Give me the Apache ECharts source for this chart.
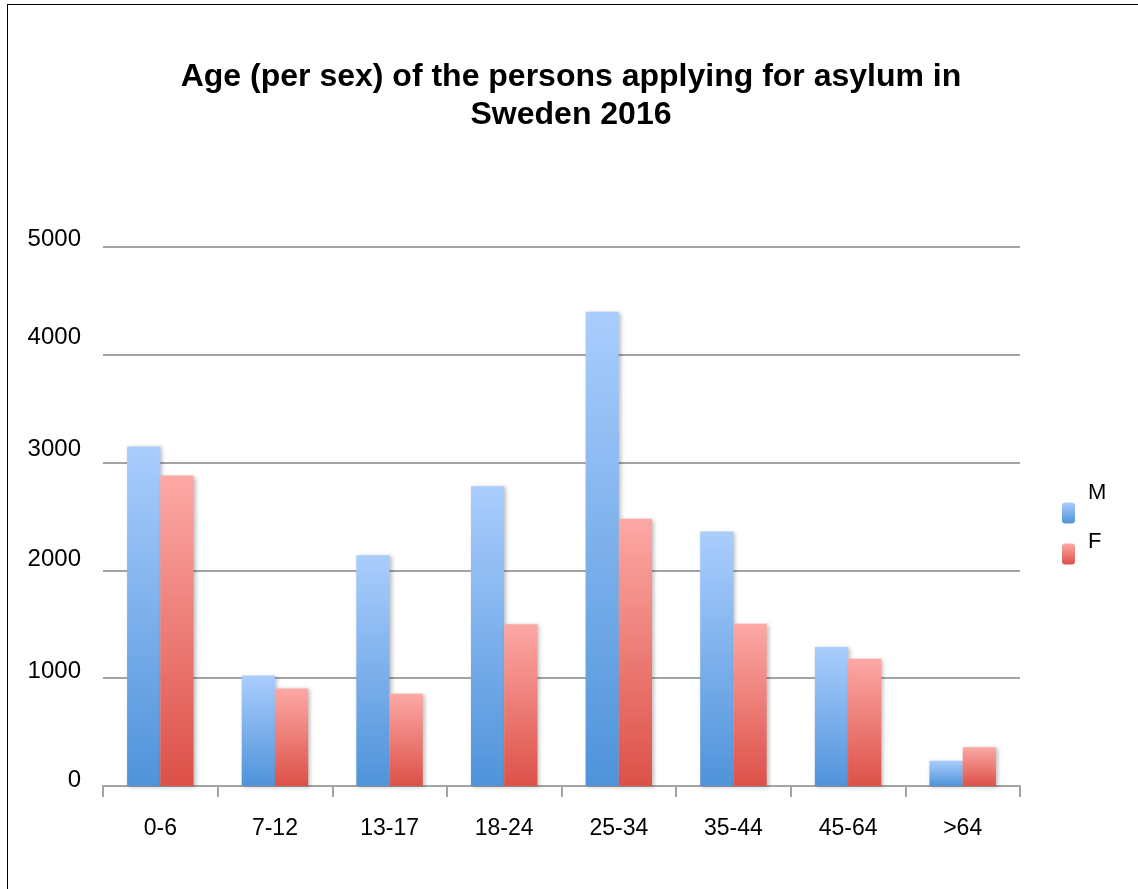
<!DOCTYPE html>
<html>
<head>
<meta charset="utf-8">
<script src="https://cdn.jsdelivr.net/npm/echarts@6/dist/echarts.min.js"></script>
<style>
html,body{margin:0;padding:0;background:#fff;}
#chart{width:1138px;height:889px;position:absolute;left:0;top:0;}
#frame{position:absolute;left:7px;top:4px;width:1140px;height:900px;border:1.5px solid #000;pointer-events:none;}
</style>
</head>
<body>
<div id="chart"></div>
<div id="frame"></div>
<script>
const titleText = 'Age (per sex) of the persons applying for asylum in\nSweden 2016';
const categories = ['0-6', '7-12', '13-17', '18-24', '25-34', '35-44', '45-64', '>64'];
const maleValues = [3150, 1025, 2140, 2780, 4400, 2360, 1290, 235];
const femaleValues = [2880, 905, 855, 1500, 2480, 1505, 1180, 360];
const yTicks = [0, 1000, 2000, 3000, 4000, 5000];

// styling: upward shift (px) of each y tick label in the original picture
const yLabelLift = [6, 7, 11, 13, 17, 8];

const FONT = 'Liberation Sans, Arial, sans-serif';
const grad = (top, bottom) => new echarts.graphic.LinearGradient(0, 0, 0, 1, [
  {offset: 0, color: top}, {offset: 1, color: bottom}
]);
const mColor = grad('#aacdfd', '#4f93da');
const fColor = grad('#fda8a5', '#dc5148');

const yRich = {};
yTicks.forEach((t, i) => {
  yRich['l' + i] = {fontFamily: FONT, fontSize: 24, color: '#000', padding: [0, 0, yLabelLift[i] * 2, 0]};
});

const chart = echarts.init(document.getElementById('chart'), null, {renderer: 'canvas'});
const legendItem = (name, top, lift) => ({
  data: [name], top: top, left: 1062, itemWidth: 13, itemHeight: 21,
  itemStyle: {borderWidth: 0}, selectedMode: false, padding: 0,
  formatter: n => '{t|' + n + '}',
  textStyle: {
    fontFamily: FONT, fontSize: 22, color: '#000',
    rich: {t: {fontFamily: FONT, fontSize: 22, color: '#000', padding: [0, 0, lift * 2, 8]}}
  }
});
chart.setOption({
  animation: false,
  backgroundColor: '#fff',
  title: {
    text: titleText,
    left: 566, top: 53, textAlign: 'center',
    textStyle: {fontFamily: FONT, fontWeight: 'bold', fontSize: 32, lineHeight: 38, color: '#000'}
  },
  legend: [
    legendItem('M', 482, 20),
    legendItem('F', 531, 12)
  ],
  grid: {left: 103, right: 118, top: 247, bottom: 103, containLabel: false},
  xAxis: {
    type: 'category',
    data: categories,
    axisLine: {lineStyle: {color: '#a3a3a3', width: 2}},
    axisTick: {show: true, length: 11, lineStyle: {color: '#a3a3a3', width: 2}},
    axisLabel: {fontFamily: FONT, fontSize: 23, color: '#000', margin: 31}
  },
  yAxis: {
    type: 'value',
    min: yTicks[0], max: yTicks[yTicks.length - 1], interval: 1000,
    axisLine: {show: false},
    axisTick: {show: false},
    splitLine: {lineStyle: {color: '#a3a3a3', width: 2}},
    axisLabel: {
      fontFamily: FONT, fontSize: 24, color: '#000', margin: 22,
      rich: yRich,
      formatter: v => {
        const i = yTicks.indexOf(v);
        return '{l' + (i < 0 ? 0 : i) + '|' + v + '}';
      }
    }
  },
  series: [
    {name: 'M', type: 'bar', data: maleValues, barGap: '0%', barCategoryGap: '42%',
     itemStyle: {color: mColor, shadowColor: 'rgba(0,0,0,0.25)', shadowBlur: 4, shadowOffsetX: 2, shadowOffsetY: 1}},
    {name: 'F', type: 'bar', data: femaleValues, barGap: '0%', barCategoryGap: '42%',
     itemStyle: {color: fColor, shadowColor: 'rgba(0,0,0,0.25)', shadowBlur: 4, shadowOffsetX: 2, shadowOffsetY: 1}}
  ]
});
</script>
</body>
</html>
